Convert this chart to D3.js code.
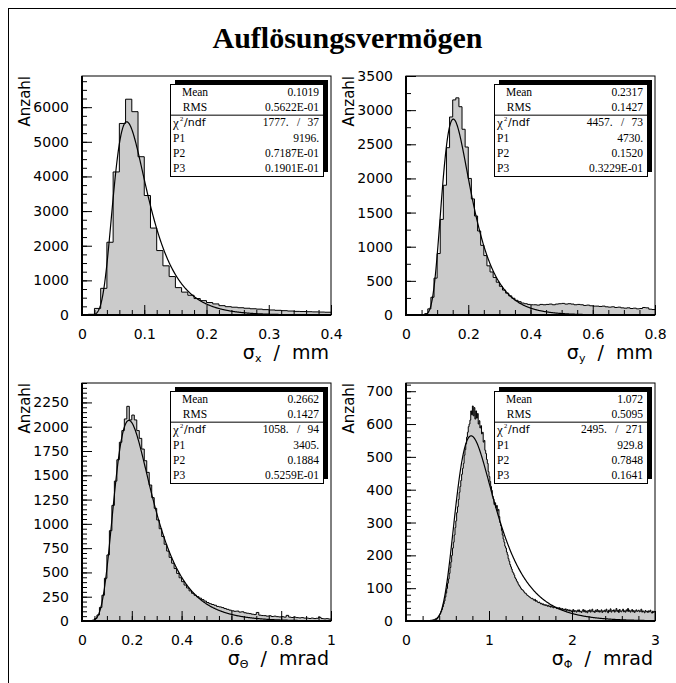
<!DOCTYPE html>
<html>
<head>
<meta charset="utf-8">
<script src="https://cdn.jsdelivr.net/npm/d3@7/dist/d3.min.js"></script>
<style>
  body { margin: 0; background: #fff; }
  svg { display: block; }
</style>
</head>
<body>
<svg id="chart" width="676" height="683"></svg>
<script>
// ---- bin contents (bin width 0.01 in every histogram) ----
const binWidth = 0.01;

// sigma_x / mm, 0 .. 0.4
const sigmaXCounts = [
  0, 20, 190, 770, 2100, 4130, 5530, 6230, 5870, 4570,
  3450, 2510, 1860, 1420, 1110, 790, 660, 570, 475, 415,
  360, 320, 270, 240, 225, 210, 195, 180, 170, 155,
  145, 135, 125, 115, 105, 100, 95, 90, 85, 80
];

// sigma_y / mm, 0 .. 0.8
const sigmaYCounts = [
  0, 0, 0, 0, 0, 5, 20, 90, 260, 540,
  900, 1400, 1900, 2450, 2900, 3150, 3180, 3050, 2720, 2460,
  2000, 1700, 1450, 1230, 1020, 870, 720, 630, 550, 480,
  420, 365, 320, 280, 245, 215, 195, 175, 165, 155,
  150, 150, 145, 155, 150, 155, 160, 150, 160, 165,
  170, 160, 165, 160, 150, 155, 150, 140, 145, 135,
  130, 130, 125, 130, 120, 115, 120, 110, 115, 105,
  100, 105, 95, 100, 90, 95, 110, 105, 85, 80
];

// sigma_Theta / mrad, 0 .. 1
const sigmaThetaCounts = [
  0, 0, 0, 2, 8, 25, 62, 140, 265, 440,
  680, 930, 1190, 1440, 1660, 1840, 1960, 2080, 2210, 2070,
  2120, 2070, 1960, 1880, 1770, 1650, 1530, 1400, 1270, 1160,
  1040, 950, 870, 790, 720, 655, 595, 540, 490, 445,
  405, 370, 340, 310, 285, 265, 250, 235, 220, 205,
  190, 178, 170, 162, 150, 145, 138, 128, 120, 112,
  105, 100, 102, 92, 95, 85, 80, 76, 70, 66,
  88, 60, 56, 55, 50, 54, 46, 50, 45, 42,
  45, 40, 58, 40, 36, 40, 35, 32, 35, 30,
  30, 26, 30, 25, 28, 38, 25, 22, 24, 20
];

// sigma_Phi / mrad, 0 .. 3
const sigmaPhiCounts = [
  0, 0, 0, 0, 0, 0, 0, 0, 0, 0,
  0, 0, 0, 0, 0, 0, 0, 0, 0, 0,
  0, 0, 0, 0, 0, 0, 1, 0, 1, 2,
  2, 3, 3, 4, 5, 6, 8, 9, 12, 14,
  19, 23, 29, 35, 43, 52, 61, 73, 85, 99,
  115, 128, 145, 163, 180, 200, 222, 240, 262, 285,
  305, 330, 348, 370, 392, 410, 428, 447, 465, 480,
  505, 522, 540, 560, 575, 592, 600, 612, 640, 628,
  655, 625, 650, 615, 640, 618, 632, 600, 610, 588,
  595, 570, 575, 545, 550, 520, 510, 492, 480, 455,
  440, 425, 410, 398, 380, 372, 355, 360, 345, 352,
  335, 340, 318, 300, 290, 275, 262, 250, 240, 228,
  222, 210, 202, 190, 182, 172, 165, 158, 150, 146,
  140, 132, 128, 122, 118, 112, 108, 104, 100, 96,
  95, 92, 88, 85, 84, 80, 78, 76, 74, 72,
  70, 68, 69, 65, 63, 66, 60, 62, 58, 56,
  58, 55, 52, 54, 50, 52, 48, 50, 47, 49,
  45, 48, 44, 46, 42, 45, 43, 40, 44, 41,
  42, 38, 40, 37, 41, 36, 39, 35, 38, 34,
  36, 33, 37, 32, 35, 31, 34, 30, 33, 29,
  31, 35, 28, 32, 30, 27, 33, 29, 34, 28,
  30, 26, 31, 35, 28, 33, 27, 30, 25, 32,
  29, 34, 27, 31, 36, 28, 30, 26, 33, 29,
  35, 28, 32, 27, 30, 34, 26, 31, 29, 33,
  28, 36, 30, 25, 33, 29, 37, 27, 32, 30,
  34, 27, 31, 38, 29, 33, 26, 35, 30, 28,
  32, 36, 28, 31, 27, 34, 30, 38, 29, 33,
  27, 31, 35, 28, 32, 26, 30, 34, 29, 31,
  33, 28, 30, 36, 27, 31, 29, 25, 32, 28,
  30, 26, 31, 28, 33, 27, 24, 30, 26, 29
];

// ---- axis ranges and tick labels ----
const xMaxima = [0.4, 0.8, 1, 3];
const yMaxima = [6900, 3500, 2450, 725];

const xTickLabelsX = ["0", "0.1", "0.2", "0.3", "0.4"];
const xTickLabelsY = ["0", "0.2", "0.4", "0.6", "0.8"];
const xTickLabelsTheta = ["0", "0.2", "0.4", "0.6", "0.8", "1"];
const xTickLabelsPhi = ["0", "1", "2", "3"];

const yTickLabelsX = ["0", "1000", "2000", "3000", "4000", "5000", "6000"];
const yTickLabelsY = ["0", "500", "1000", "1500", "2000", "2500", "3000", "3500"];
const yTickLabelsTheta = ["0", "250", "500", "750", "1000", "1250", "1500", "1750", "2000", "2250"];
const yTickLabelsPhi = ["0", "100", "200", "300", "400", "500", "600", "700"];

const xMinorSteps = [0.02, 0.05, 0.05, 0.2];
const yMinorSteps = [250, 250, 50, 20];

// ---- axis titles ----
const xTitleSubscripts = ["x", "y", "\u0398", "\u03A6"];
const xTitleUnits = ["mm", "mm", "mrad", "mrad"];

// ---- fit statistics ----
const meanValues = ["0.1019", "0.2317", "0.2662", "1.072"];
const rmsValues = ["0.5622E-01", "0.1427", "0.1427", "0.5095"];
const chi2Values = ["1777.", "4457.", "1058.", "2495."];
const ndfValues = ["37", "73", "94", "271"];
const p1Values = ["9196.", "4730.", "3405.", "929.8"];
const p2Values = ["0.7187E-01", "0.1520", "0.1884", "0.7848"];
const p3Values = ["0.1901E-01", "0.3229E-01", "0.5259E-01", "0.1641"];

// ---- assembled per-pad options ----
const histograms = [sigmaXCounts, sigmaYCounts, sigmaThetaCounts, sigmaPhiCounts];
const xTickLabels = [xTickLabelsX, xTickLabelsY, xTickLabelsTheta, xTickLabelsPhi];
const yTickLabels = [yTickLabelsX, yTickLabelsY, yTickLabelsTheta, yTickLabelsPhi];

const pads = [
  { left: 82,  top: 76,  width: 249, height: 239 },
  { left: 406, top: 76,  width: 249, height: 239 },
  { left: 82,  top: 383, width: 249, height: 238 },
  { left: 406, top: 383, width: 249, height: 238 }
];

const svg = d3.select("#chart");
const sans = "'DejaVu Sans', sans-serif";
const serif = "'Liberation Serif', 'Times New Roman', serif";

// outer page frame
svg.append("rect")
  .attr("x", 8.5).attr("y", 8.5).attr("width", 679).attr("height", 700)
  .attr("fill", "none").attr("stroke", "#000").attr("stroke-width", 1);

// page title
svg.append("text")
  .attr("x", 347.5).attr("y", 48)
  .attr("text-anchor", "middle")
  .attr("font-family", serif).attr("font-weight", "bold").attr("font-size", 30)
  .text("Auflösungsvermögen");

// landau-like fit function (Moyal form): P1 * exp(-(l + exp(-l))/2), l = (x-P2)/P3
function fitFunction(xv, p1, p2, p3) {
  const l = (xv - p2) / p3;
  return p1 * Math.exp(-0.5 * (l + Math.exp(-l)));
}

pads.forEach((pad, i) => {
  const counts = histograms[i];
  const xMax = xMaxima[i], yMax = yMaxima[i];
  const x = d3.scaleLinear().domain([0, xMax]).range([pad.left, pad.left + pad.width]);
  const y = d3.scaleLinear().domain([0, yMax]).range([pad.top + pad.height, pad.top]);
  const g = svg.append("g");

  const clipId = "clip" + i;
  svg.append("clipPath").attr("id", clipId)
    .append("rect")
    .attr("x", pad.left).attr("y", pad.top)
    .attr("width", pad.width).attr("height", pad.height);

  // histogram as step outline over bin edges
  const steps = counts.map((c, k) => [k * binWidth, c]);
  steps.push([counts.length * binWidth, counts[counts.length - 1]]);

  const area = d3.area()
    .x(d => x(d[0])).y0(y(0)).y1(d => y(d[1]))
    .curve(d3.curveStepAfter);
  const line = d3.line()
    .x(d => x(d[0])).y(d => y(d[1]))
    .curve(d3.curveStepAfter);

  const plot = g.append("g").attr("clip-path", `url(#${clipId})`);
  plot.append("path").datum(steps)
    .attr("d", area).attr("fill", "#cbcbcb").attr("stroke", "none");
  plot.append("path").datum(steps)
    .attr("d", line).attr("fill", "none").attr("stroke", "#000").attr("stroke-width", 1);

  // fitted curve from the quoted parameters
  const p1 = parseFloat(p1Values[i]), p2 = parseFloat(p2Values[i]), p3 = parseFloat(p3Values[i]);
  const fitPts = d3.range(0, 601).map(k => {
    const xv = xMax * k / 600;
    return [xv, fitFunction(xv, p1, p2, p3)];
  });
  plot.append("path").datum(fitPts)
    .attr("d", d3.line().x(d => x(d[0])).y(d => y(d[1])))
    .attr("fill", "none").attr("stroke", "#000").attr("stroke-width", 1.2);

  // frame: heavier axis lines on left and bottom
  g.append("rect")
    .attr("x", pad.left).attr("y", pad.top)
    .attr("width", pad.width).attr("height", pad.height)
    .attr("fill", "none").attr("stroke", "#000").attr("stroke-width", 1);
  g.append("path")
    .attr("d", `M${pad.left},${pad.top}V${pad.top + pad.height}H${pad.left + pad.width}`)
    .attr("fill", "none").attr("stroke", "#000").attr("stroke-width", 2);

  // y axis: minor and major ticks pointing inwards
  const yMajor = yTickLabels[i].map(Number);
  const yMinor = d3.range(0, yMax + 1e-9, yMinorSteps[i]);
  const yAxisG = g.append("g").attr("transform", `translate(${pad.left},0)`);
  yAxisG.append("g").call(d3.axisLeft(y).tickValues(yMinor).tickSize(-5).tickFormat(""));
  yAxisG.append("g").call(
    d3.axisLeft(y).tickValues(yMajor).tickSize(-10).tickPadding(13)
      .tickFormat((d, k) => yTickLabels[i][k])
  );

  // x axis
  const xMajor = xTickLabels[i].map(Number);
  const xMinor = d3.range(0, xMax + 1e-9, xMinorSteps[i]);
  const xAxisG = g.append("g").attr("transform", `translate(0,${pad.top + pad.height})`);
  xAxisG.append("g").call(d3.axisBottom(x).tickValues(xMinor).tickSize(-5).tickFormat(""));
  xAxisG.append("g").call(
    d3.axisBottom(x).tickValues(xMajor).tickSize(-10).tickPadding(14)
      .tickFormat((d, k) => xTickLabels[i][k])
  );

  g.selectAll(".domain").remove();
  g.selectAll(".tick line").attr("stroke", "#000").attr("stroke-width", 1);
  g.selectAll(".tick text")
    .attr("font-family", sans).attr("font-size", 14).attr("fill", "#000");

  // y axis title
  g.append("text")
    .attr("transform", `translate(${pad.left - 52},${pad.top}) rotate(-90)`)
    .attr("text-anchor", "end")
    .attr("font-family", sans).attr("font-size", 15)
    .text("Anzahl");

  // x axis title with subscript
  const xt = g.append("text")
    .attr("x", pad.left + pad.width - 2).attr("y", pad.top + pad.height + 44)
    .attr("text-anchor", "end")
    .attr("font-family", sans).attr("font-size", 19)
    .attr("xml:space", "preserve").style("white-space", "pre");
  xt.append("tspan").text("\u03C3");
  xt.append("tspan").attr("font-size", 11).attr("dy", 3).text(xTitleSubscripts[i]);
  xt.append("tspan").attr("dy", -3).text("  /  " + xTitleUnits[i]);

  // statistics box with drop shadow
  const bw = 153, bh = 92;
  const bx = pad.left + pad.width - 161, by = pad.top + 8;
  const rh = bh / 6;
  g.append("rect").attr("x", bx + 5).attr("y", by - 4).attr("width", bw).attr("height", bh)
    .attr("fill", "#000");
  g.append("rect").attr("x", bx + 0.5).attr("y", by + 0.5).attr("width", bw).attr("height", bh)
    .attr("fill", "#fff").attr("stroke", "#000").attr("stroke-width", 1);
  g.append("line")
    .attr("x1", bx).attr("x2", bx + bw + 0.5)
    .attr("y1", by + 2 * rh + 0.5).attr("y2", by + 2 * rh + 0.5)
    .attr("stroke", "#000").attr("stroke-width", 1);

  const rowY = r => by + rh * (r + 0.5) + 4;
  const valX = bx + bw - 4;
  const st = g.append("g").attr("font-family", serif).attr("font-size", 11.5).attr("fill", "#000");

  st.append("text").attr("x", bx + 25).attr("y", rowY(0)).attr("text-anchor", "middle").text("Mean");
  st.append("text").attr("x", valX).attr("y", rowY(0)).attr("text-anchor", "end").text(meanValues[i]);
  st.append("text").attr("x", bx + 25).attr("y", rowY(1)).attr("text-anchor", "middle").text("RMS");
  st.append("text").attr("x", valX).attr("y", rowY(1)).attr("text-anchor", "end").text(rmsValues[i]);

  // chi-square label: greek chi, small superscript 2, then "/ndf"
  st.append("text").attr("x", bx + 3).attr("y", rowY(2) + 1)
    .attr("font-size", 13).text("\u03C7");
  st.append("text").attr("x", bx + 10).attr("y", rowY(2) - 5)
    .attr("font-size", 6.5).text("2");
  st.append("text").attr("x", bx + 14).attr("y", rowY(2))
    .attr("font-family", sans).attr("font-size", 11).text("/ndf");

  // chi-square value  /  degrees of freedom
  const ndfText = st.append("text").attr("x", valX).attr("y", rowY(2))
    .attr("text-anchor", "end").text(ndfValues[i]);
  const ndfStart = valX - ndfText.node().getComputedTextLength();
  st.append("text").attr("x", ndfStart - 9).attr("y", rowY(2))
    .attr("text-anchor", "middle").text("/");
  st.append("text").attr("x", ndfStart - 19).attr("y", rowY(2))
    .attr("text-anchor", "end").text(chi2Values[i]);

  [["P1", p1Values[i]], ["P2", p2Values[i]], ["P3", p3Values[i]]].forEach((row, k) => {
    st.append("text").attr("x", bx + 3).attr("y", rowY(3 + k)).text(row[0]);
    st.append("text").attr("x", valX).attr("y", rowY(3 + k)).attr("text-anchor", "end").text(row[1]);
  });
});
</script>
</body>
</html>
